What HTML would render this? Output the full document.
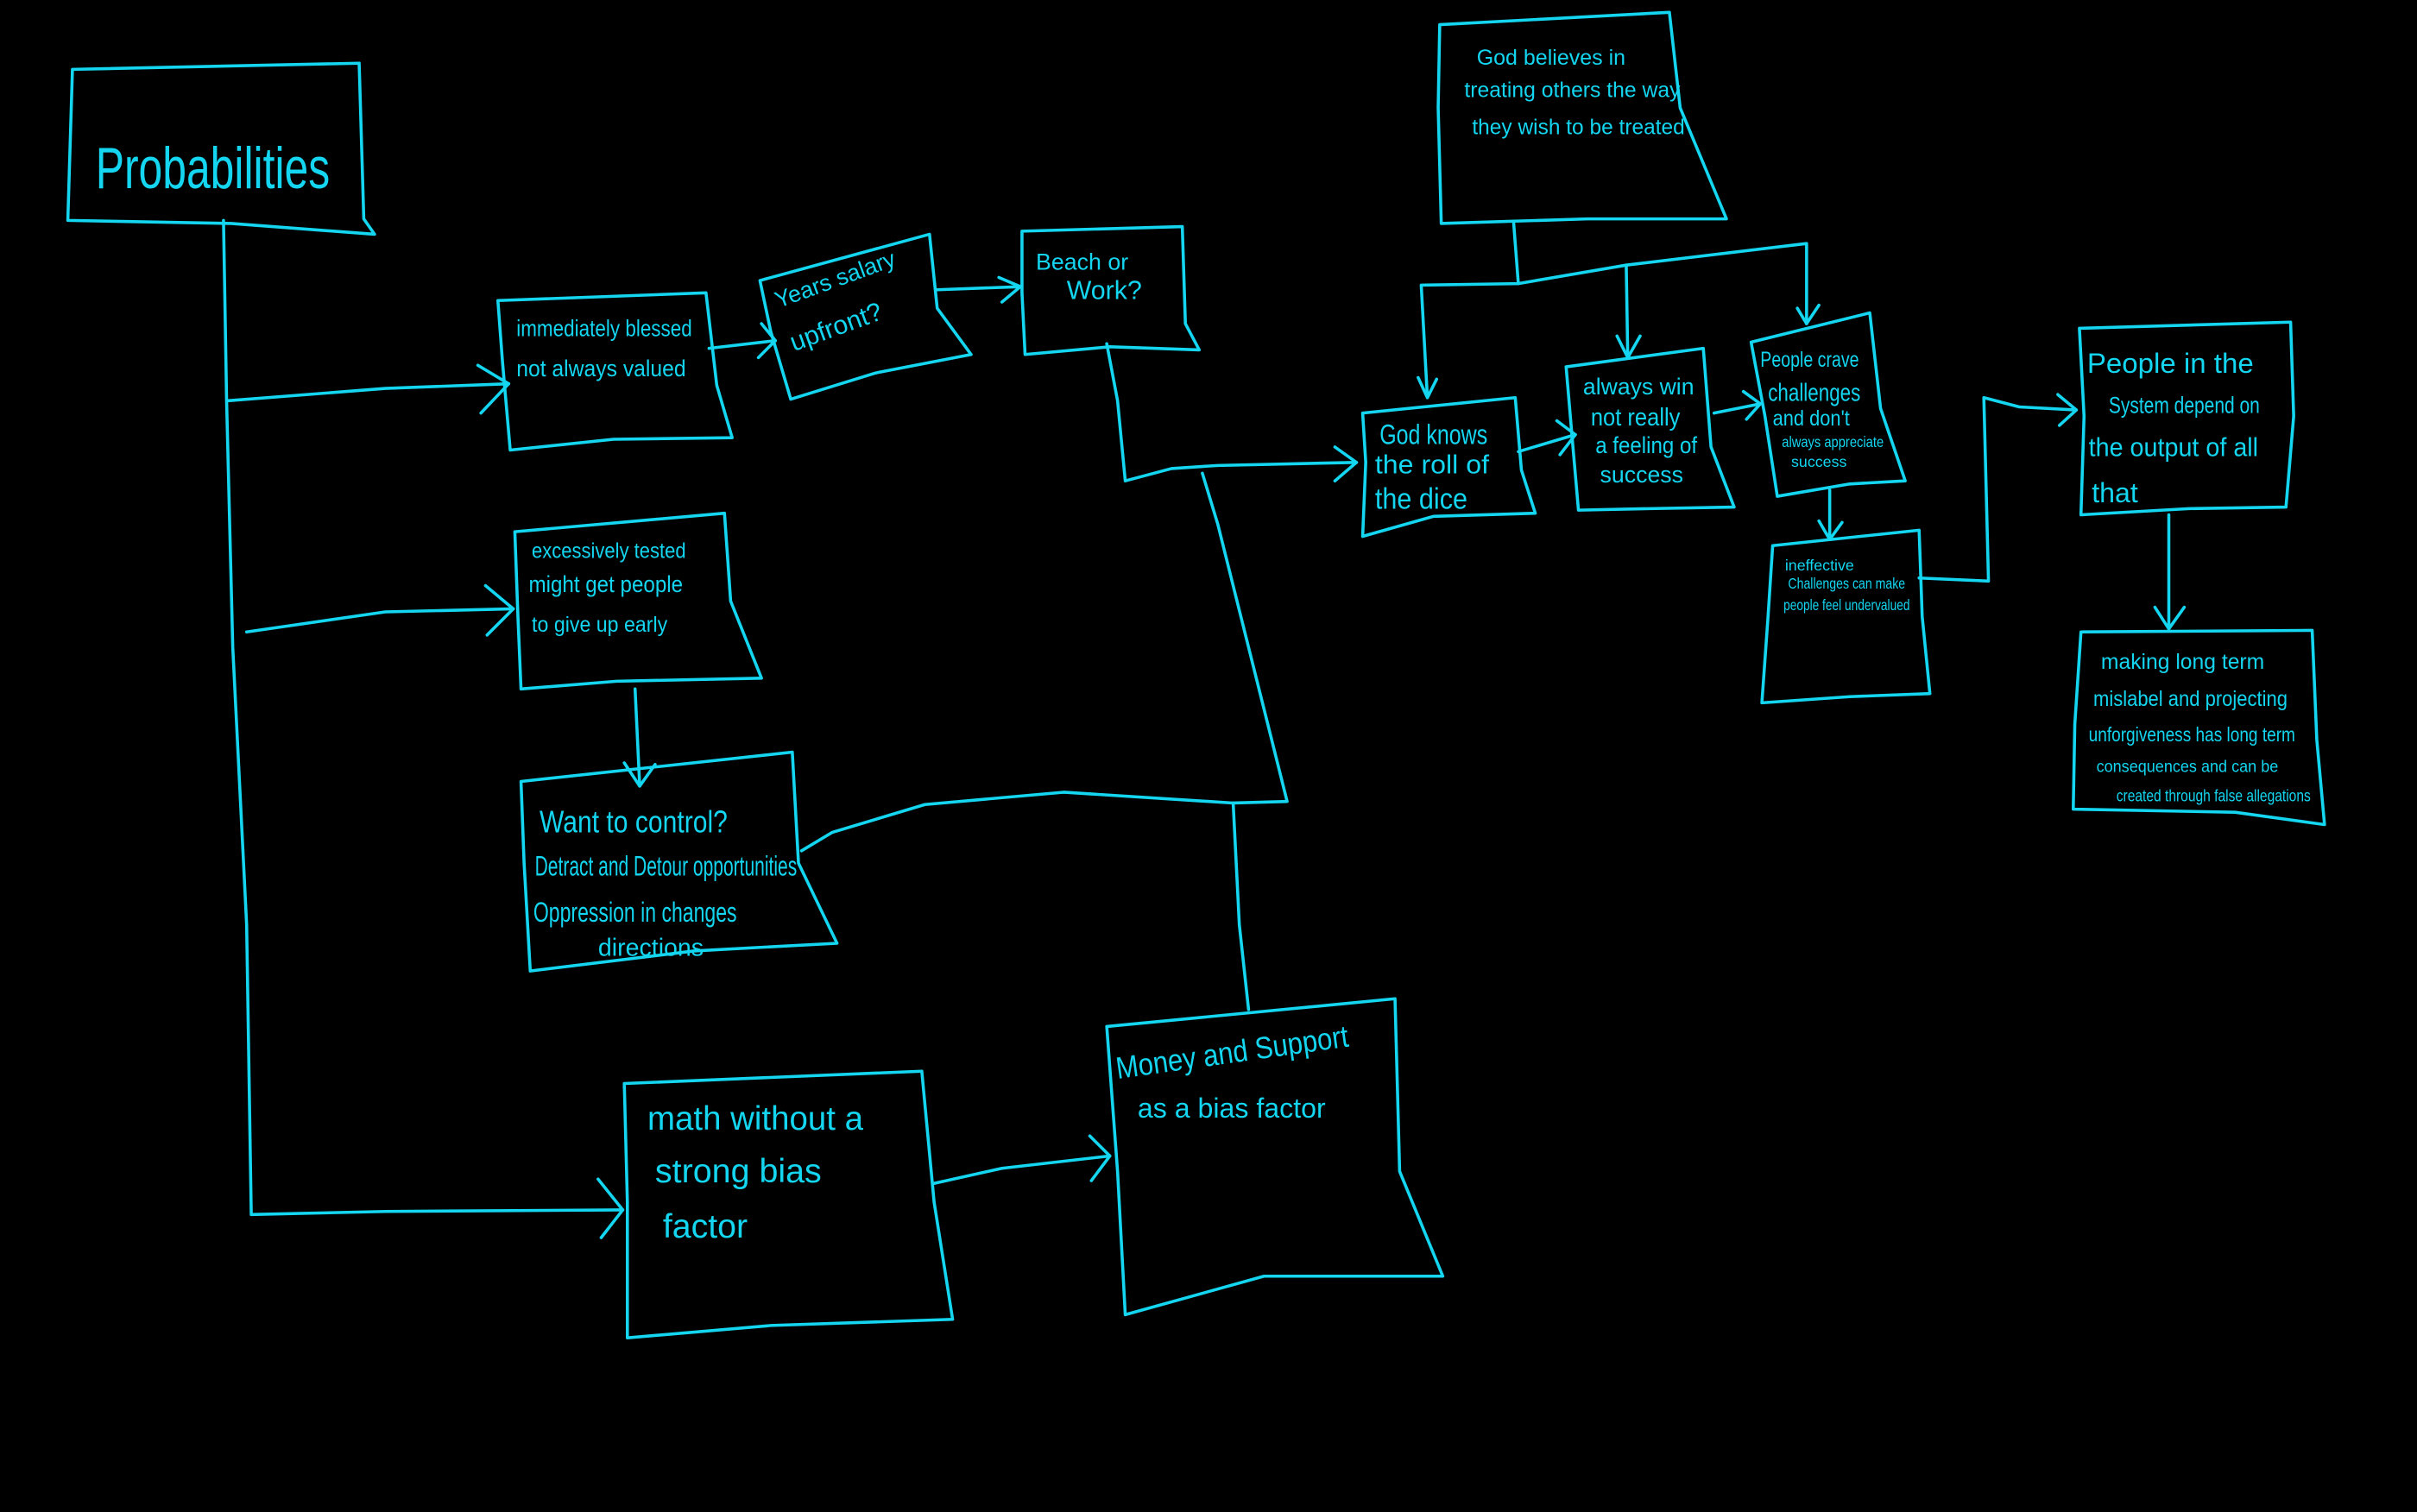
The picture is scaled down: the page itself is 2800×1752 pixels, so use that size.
<!DOCTYPE html>
<html><head><meta charset="utf-8"><style>
html,body{margin:0;padding:0;background:#000;}
svg{display:block;}
text{font-family:"Liberation Sans",sans-serif;fill:#14d6f0;}
</style></head><body>
<svg width="2800" height="1752" viewBox="0 0 1568 981" preserveAspectRatio="none" xmlns="http://www.w3.org/2000/svg">
<rect width="1568" height="981" fill="#000"/>
<g fill="none" stroke="#14d6f0" stroke-width="2" stroke-linejoin="round" stroke-linecap="round">
<path d="M47,45 L233,41 L236,142 L243,152 L150,145 L44,143 Z"/>
<path d="M323,195 L458,190 L465,250 L475,284 L398,285 L331,292 L326,235 Z"/>
<path d="M493,182 L603,152 L608,200 L630,230 L568,242 L513,259 L500,215 Z"/>
<path d="M663,150 L767,147 L769,210 L778,227 L720,225 L665,230 L663,190 Z"/>
<path d="M334,345 L470,333 L474,390 L494,440 L400,442 L338,447 L336,400 Z"/>
<path d="M338,507 L514,488 L518,560 L543,612 L450,617 L344,630 L340,560 Z"/>
<path d="M405,703 L598,695 L606,780 L618,856 L500,860 L407,868 L407,780 Z"/>
<path d="M718,666 L905,648 L908,760 L936,828 L820,828 L730,853 L725,760 Z"/>
<path d="M934,16 L1083,8 L1090,70 L1120,142 L1030,142 L935,145 L933,70 Z"/>
<path d="M884,268 L983,258 L987,305 L996,333 L930,335 L884,348 L886,300 Z"/>
<path d="M1016,238 L1105,226 L1110,290 L1125,329 L1070,330 L1024,331 L1020,285 Z"/>
<path d="M1136,222 L1213,203 L1220,265 L1236,312 L1200,314 L1153,322 L1145,270 Z"/>
<path d="M1150,354 L1245,344 L1247,400 L1252,450 L1200,452 L1143,456 L1147,400 Z"/>
<path d="M1349,213 L1486,209 L1488,270 L1483,329 L1420,330 L1350,334 L1352,270 Z"/>
<path d="M1350,410 L1500,409 L1503,480 L1508,535 L1450,527 L1345,525 L1346,470 Z"/>
<path d="M145,143 L147,260 L151,420 L160,600 L163,788 L250,786 L404,785"/>
<path d="M148,260 L250,252 L330,249"/>
<path d="M160,410 L250,397 L333,395"/>
<path d="M460,226 L503,221"/>
<path d="M608,188 L662,186"/>
<path d="M718,223 L725,260 L730,312 L760,304 L790,302 L880,300"/>
<path d="M780,307 L790,340 L805,400 L835,520 L800,521 L690,514 L600,522 L540,540 L520,552"/>
<path d="M800,521 L804,600 L810,655"/>
<path d="M412,447 L415,510"/>
<path d="M605,768 L650,758 L720,750"/>
<path d="M982,145 L985,184 L922,185 L926,258"/>
<path d="M985,184 L1055,172 L1172,158 L1172,210"/>
<path d="M1055,172 L1056,232"/>
<path d="M985,293 L1022,282"/>
<path d="M1112,268 L1142,262"/>
<path d="M1187,318 L1187,350"/>
<path d="M1245,375 L1290,377 L1287,258 L1310,264 L1347,266"/>
<path d="M1407,334 L1407,408"/>
<path d="M310,237 L330,249 L312,268"/>
<path d="M315,380 L333,395 L316,412"/>
<path d="M388,765 L404,785 L390,803"/>
<path d="M494,210 L503,221 L492,232"/>
<path d="M648,180 L662,186 L650,196"/>
<path d="M866,290 L880,300 L866,312"/>
<path d="M405,495 L415,510 L425,496"/>
<path d="M707,737 L720,750 L708,766"/>
<path d="M920,245 L926,258 L932,246"/>
<path d="M1049,218 L1056,232 L1064,218"/>
<path d="M1166,200 L1172,210 L1180,198"/>
<path d="M1010,273 L1022,282 L1012,295"/>
<path d="M1131,254 L1142,262 L1133,272"/>
<path d="M1180,338 L1187,350 L1195,339"/>
<path d="M1335,256 L1347,266 L1336,276"/>
<path d="M1398,394 L1407,408 L1417,394"/>
</g>
<g>
<text x="62" y="122" font-size="38" textLength="152" lengthAdjust="spacingAndGlyphs">Probabilities</text>
<text x="335" y="218" font-size="15" textLength="114" lengthAdjust="spacingAndGlyphs">immediately blessed</text>
<text x="335" y="244" font-size="15" textLength="110" lengthAdjust="spacingAndGlyphs">not always valued</text>
<text transform="translate(505,200) rotate(-20)" font-size="15">Years salary</text>
<text transform="translate(515,228) rotate(-20)" font-size="17">upfront?</text>
<text x="672" y="175" font-size="15">Beach or</text>
<text x="692" y="194" font-size="17">Work?</text>
<text x="345" y="362" font-size="14" textLength="100" lengthAdjust="spacingAndGlyphs">excessively tested</text>
<text x="343" y="384" font-size="15" textLength="100" lengthAdjust="spacingAndGlyphs">might get people</text>
<text x="345" y="410" font-size="14" textLength="88" lengthAdjust="spacingAndGlyphs">to give up early</text>
<text x="350" y="540" font-size="20" textLength="122" lengthAdjust="spacingAndGlyphs">Want to control?</text>
<text x="347" y="568" font-size="18" textLength="170" lengthAdjust="spacingAndGlyphs">Detract and Detour opportunities</text>
<text x="346" y="598" font-size="18" textLength="132" lengthAdjust="spacingAndGlyphs">Oppression in changes</text>
<text x="388" y="620" font-size="16">directions</text>
<text x="420" y="733" font-size="22" textLength="140" lengthAdjust="spacingAndGlyphs">math without a</text>
<text x="425" y="767" font-size="22" textLength="108" lengthAdjust="spacingAndGlyphs">strong bias</text>
<text x="430" y="803" font-size="22">factor</text>
<text transform="translate(725,700) rotate(-8)" font-size="20" textLength="152" lengthAdjust="spacingAndGlyphs">Money and Support</text>
<text x="738" y="725" font-size="18">as a bias factor</text>
<text x="958" y="42" font-size="14">God believes in</text>
<text x="950" y="63" font-size="14" textLength="140" lengthAdjust="spacingAndGlyphs">treating others the way</text>
<text x="955" y="87" font-size="14" textLength="138" lengthAdjust="spacingAndGlyphs">they wish to be treated</text>
<text x="895" y="288" font-size="18" textLength="70" lengthAdjust="spacingAndGlyphs">God knows</text>
<text x="892" y="307" font-size="17" textLength="74" lengthAdjust="spacingAndGlyphs">the roll of</text>
<text x="892" y="330" font-size="19" textLength="60" lengthAdjust="spacingAndGlyphs">the dice</text>
<text x="1027" y="256" font-size="15" textLength="72" lengthAdjust="spacingAndGlyphs">always win</text>
<text x="1032" y="276" font-size="16" textLength="58" lengthAdjust="spacingAndGlyphs">not really</text>
<text x="1035" y="294" font-size="15" textLength="66" lengthAdjust="spacingAndGlyphs">a feeling of</text>
<text x="1038" y="313" font-size="15" textLength="54" lengthAdjust="spacingAndGlyphs">success</text>
<text x="1142" y="238" font-size="14" textLength="64" lengthAdjust="spacingAndGlyphs">People crave</text>
<text x="1147" y="260" font-size="16" textLength="60" lengthAdjust="spacingAndGlyphs">challenges</text>
<text x="1150" y="276" font-size="14" textLength="50" lengthAdjust="spacingAndGlyphs">and don't</text>
<text x="1156" y="290" font-size="10" textLength="66" lengthAdjust="spacingAndGlyphs">always appreciate</text>
<text x="1162" y="303" font-size="10">success</text>
<text x="1158" y="370" font-size="10">ineffective</text>
<text x="1160" y="382" font-size="10" textLength="76" lengthAdjust="spacingAndGlyphs">Challenges can make</text>
<text x="1157" y="396" font-size="10" textLength="82" lengthAdjust="spacingAndGlyphs">people feel undervalued</text>
<text x="1354" y="242" font-size="18" textLength="108" lengthAdjust="spacingAndGlyphs">People in the</text>
<text x="1368" y="268" font-size="15" textLength="98" lengthAdjust="spacingAndGlyphs">System depend on</text>
<text x="1355" y="296" font-size="17" textLength="110" lengthAdjust="spacingAndGlyphs">the output of all</text>
<text x="1357" y="326" font-size="18">that</text>
<text x="1363" y="434" font-size="14" textLength="106" lengthAdjust="spacingAndGlyphs">making long term</text>
<text x="1358" y="458" font-size="14" textLength="126" lengthAdjust="spacingAndGlyphs">mislabel and projecting</text>
<text x="1355" y="481" font-size="13" textLength="134" lengthAdjust="spacingAndGlyphs">unforgiveness has long term</text>
<text x="1360" y="501" font-size="11" textLength="118" lengthAdjust="spacingAndGlyphs">consequences and can be</text>
<text x="1373" y="520" font-size="11" textLength="126" lengthAdjust="spacingAndGlyphs">created through false allegations</text>
</g>
</svg>
</body></html>
